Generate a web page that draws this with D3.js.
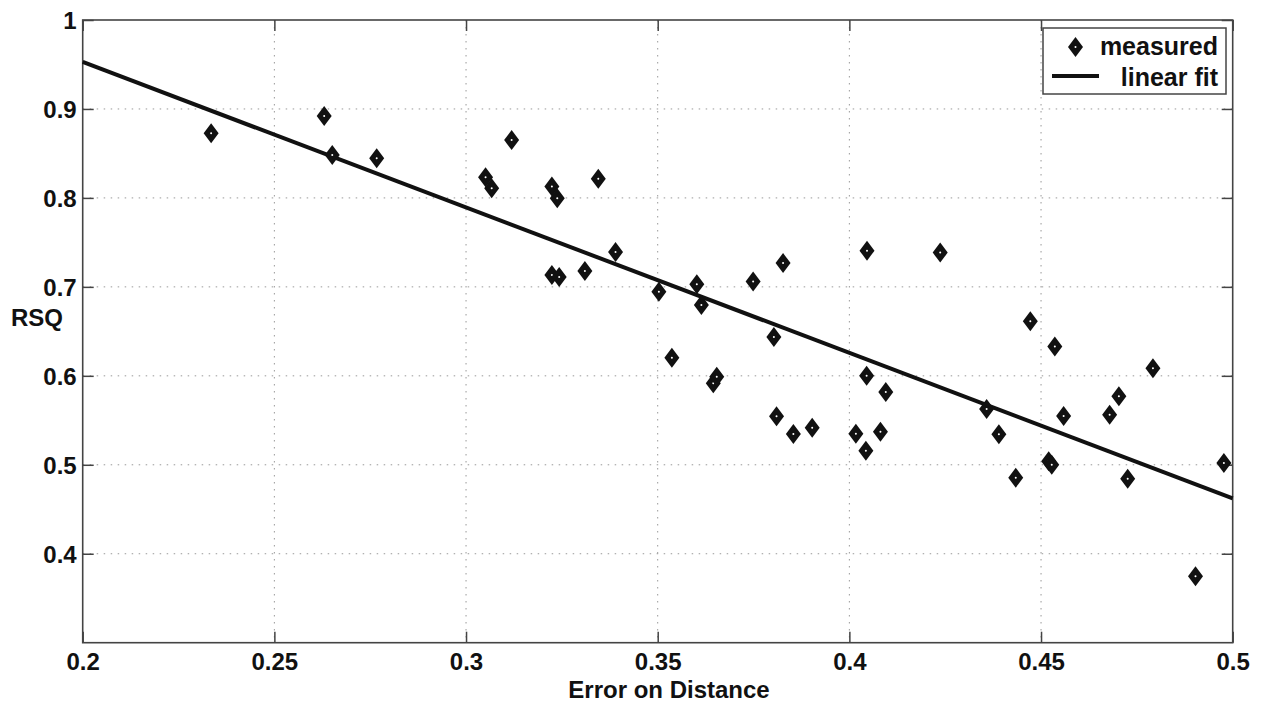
<!DOCTYPE html>
<html><head><meta charset="utf-8">
<script src="https://cdn.jsdelivr.net/npm/d3@7/dist/d3.min.js"></script>
<style>body{margin:0;background:#fff}svg{display:block}text{font-family:"Liberation Sans",Arial,sans-serif;font-weight:bold;fill:#111}</style>
</head><body><svg id="c" width="1261" height="702"></svg>
<script>
const errX = [0.2335,0.263,0.2651,0.2767,0.3051,0.3067,0.3119,0.3224,0.3238,0.3345,0.3224,0.3243,0.331,0.339,0.3503,0.3537,0.3602,0.3614,0.3645,0.3654,0.3749,0.3827,0.3803,0.381,0.3854,0.3903,0.4017,0.4043,0.4045,0.4046,0.4081,0.4095,0.4237,0.4472,0.4536,0.4792,0.4358,0.439,0.4434,0.452,0.4528,0.4559,0.4679,0.4703,0.4726,0.4977,0.4903];
const rsq  = [0.8726,0.892,0.8482,0.8445,0.8232,0.8108,0.865,0.8127,0.7996,0.8216,0.7134,0.7111,0.7178,0.7392,0.6946,0.6204,0.7029,0.6796,0.5916,0.599,0.7059,0.7268,0.6437,0.5545,0.5346,0.5417,0.535,0.5159,0.6002,0.7407,0.5372,0.5818,0.7385,0.6613,0.633,0.6085,0.5627,0.5343,0.4855,0.504,0.500,0.5549,0.5563,0.577,0.4844,0.502,0.3747];
const fitX = [0.2, 0.5];
const fitY = [0.9528, 0.4623];
const xTicks = [0.2,0.25,0.3,0.35,0.4,0.45,0.5];
const yTicks = [0.4,0.5,0.6,0.7,0.8,0.9,1];
const legendLabels = ["measured","linear fit"];

const svg = d3.select("#c");
const L=82.7,R=1232.7,T=20,B=642.7;
const x = d3.scaleLinear().domain([0.2,0.5]).range([L,R]);
const y = d3.scaleLinear().domain([0.3,1]).range([B,T]);
const ink="#111", frame="#444";

// grid
const g = svg.append("g");
g.selectAll(".gx").data(xTicks.slice(1,-1)).join("line")
  .attr("x1",d=>x(d)).attr("x2",d=>x(d)).attr("y1",T).attr("y2",B)
  .attr("stroke","#999").attr("stroke-width",1).attr("stroke-dasharray","1.5,5.5");
g.selectAll(".gy").data(yTicks.filter(d=>d<1)).join("line")
  .attr("y1",d=>y(d)).attr("y2",d=>y(d)).attr("x1",L).attr("x2",R)
  .attr("stroke","#999").attr("stroke-width",1).attr("stroke-dasharray","1.5,5.5");

// axes with inward ticks
const tl=11;
const ax = d3.axisBottom(x).tickValues(xTicks).tickSize(-tl).tickPadding(10).tickFormat(d=>d3.format("")(d));
const gax = svg.append("g").attr("transform",`translate(0,${B})`).call(ax);
const axT = d3.axisTop(x).tickValues(xTicks).tickSize(-tl).tickFormat("");
svg.append("g").attr("transform",`translate(0,${T})`).call(axT);
const ay = d3.axisLeft(y).tickValues(yTicks).tickSize(-tl).tickPadding(6).tickFormat(d=>d3.format("")(d));
const gay = svg.append("g").attr("transform",`translate(${L},0)`).call(ay);
const ayR = d3.axisRight(y).tickValues(yTicks).tickSize(-tl).tickFormat("");
svg.append("g").attr("transform",`translate(${R},0)`).call(ayR);
svg.selectAll(".domain").remove();
svg.selectAll(".tick line").attr("stroke",frame).attr("stroke-width",1.5);
svg.selectAll(".tick text").style("font-size","24px").attr("fill",ink);
gax.selectAll(".tick text").attr("dy","0.71em");
gay.selectAll(".tick text").attr("dy","0.36em");

svg.append("rect").attr("x",L).attr("y",T).attr("width",R-L).attr("height",B-T)
  .attr("fill","none").attr("stroke",frame).attr("stroke-width",1.6);

// fit line
const line = d3.line().x(d=>x(d[0])).y(d=>y(d[1]));
svg.append("path").datum(fitX.map((v,i)=>[v,fitY[i]])).attr("d",line)
  .attr("stroke",ink).attr("stroke-width",4).attr("fill","none");

// markers
const diamond = "M0,-10L7.5,0L0,10L-7.5,0Z";
const pts = svg.append("g").selectAll("g").data(errX.map((v,i)=>[v,rsq[i]])).join("g")
  .attr("transform",d=>`translate(${x(d[0])},${y(d[1])})`);
pts.append("path").attr("d",diamond).attr("fill",ink);
pts.append("circle").attr("r",1).attr("fill","#fff");

// legend
const lg = svg.append("g");
lg.append("rect").attr("x",1043).attr("y",28).attr("width",183).attr("height",66)
  .attr("fill","#fff").attr("stroke",frame).attr("stroke-width",1.5);
lg.append("path").attr("d",diamond).attr("transform","translate(1075.5,47)").attr("fill",ink);
lg.append("circle").attr("cx",1075.5).attr("cy",47).attr("r",1).attr("fill","#fff");
lg.append("line").attr("x1",1052).attr("x2",1099).attr("y1",76).attr("y2",76).attr("stroke",ink).attr("stroke-width",4);
lg.selectAll("text").data(legendLabels).join("text")
  .attr("x",1218).attr("y",(d,i)=>55+i*31).attr("text-anchor","end").style("font-size","25px").text(d=>d);

// axis titles
svg.append("text").attr("x",669).attr("y",698).attr("text-anchor","middle").style("font-size","24px").text("Error on Distance");
svg.append("text").attr("x",37).attr("y",326).attr("text-anchor","middle").style("font-size","24px").text("RSQ");
</script></body></html>
